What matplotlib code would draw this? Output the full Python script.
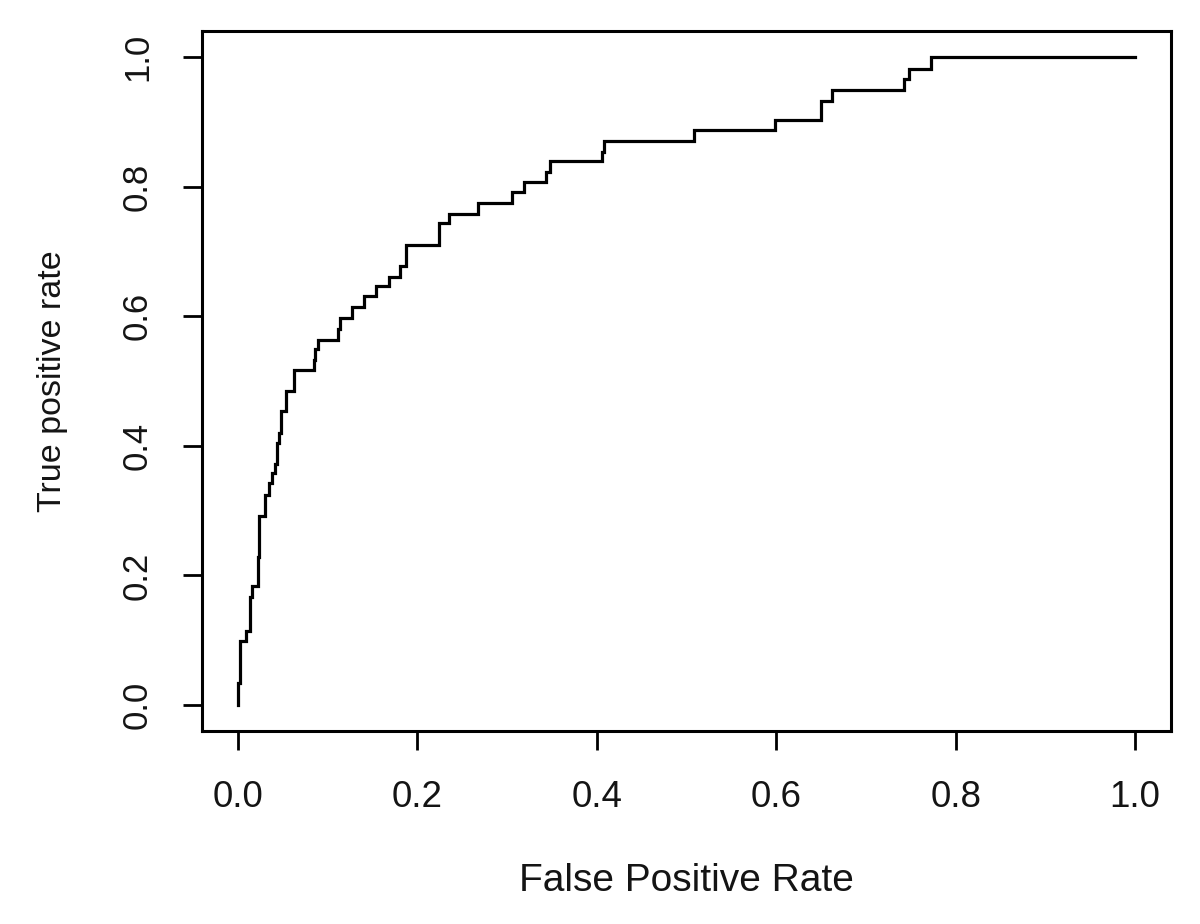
import matplotlib
matplotlib.use("Agg")
import matplotlib.pyplot as plt

# FPR at which each vertical rise occurs, and TPR level reached after the rise
fpr = [0.0, 0.0, 0.0025, 0.0085, 0.014, 0.016, 0.022, 0.024, 0.030, 0.035,
       0.038, 0.0416, 0.044, 0.046, 0.048, 0.054, 0.063, 0.0845, 0.0864, 0.089,
       0.1115, 0.1135, 0.127, 0.1405, 0.1544, 0.168, 0.181, 0.187, 0.224, 0.235,
       0.268, 0.305, 0.319, 0.343, 0.348, 0.4055, 0.4077, 0.508, 0.599, 0.650,
       0.662, 0.7425, 0.7477, 0.772, 1.0]
tpr = [0.0, 0.034, 0.099, 0.115, 0.166, 0.183, 0.229, 0.292, 0.324, 0.342,
       0.358, 0.372, 0.405, 0.420, 0.454, 0.485, 0.517, 0.533, 0.550, 0.564,
       0.580, 0.597, 0.614, 0.631, 0.647, 0.6605, 0.6775, 0.710, 0.744, 0.757,
       0.774, 0.791, 0.8066, 0.823, 0.8395, 0.854, 0.870, 0.887, 0.903, 0.9325,
       0.949, 0.966, 0.9815, 1.0, 1.0]

ticks = [0.0, 0.2, 0.4, 0.6, 0.8, 1.0]
tick_labels = ["0.0", "0.2", "0.4", "0.6", "0.8", "1.0"]
xlabel = "False Positive Rate"
ylabel = "True positive rate"

plt.rcParams['font.family'] = ['Liberation Sans', 'DejaVu Sans']

fig = plt.figure(figsize=(12, 9.24), dpi=100)
ax = fig.add_axes([202/1200, 1 - 731/924, (1171-202)/1200, (731-31)/924])

ax.plot(fpr, tpr, drawstyle='steps-post', color='black', linewidth=2.3,
        solid_joinstyle='miter')

ax.set_xlim(-0.04, 1.04)
ax.set_ylim(-0.04, 1.04)

ax.set_xticks(ticks)
ax.set_xticklabels(tick_labels, fontsize=26.5, color='#141414')
ax.set_yticks(ticks)
ax.set_yticklabels(tick_labels, fontsize=25, rotation=90, va='center',
                   color='#141414')
ax.tick_params(axis='both', direction='out', length=13.5, width=2.0,
               color='black')
ax.tick_params(axis='x', pad=22)
ax.tick_params(axis='y', pad=21)

for s in ax.spines.values():
    s.set_linewidth(2.2)
    s.set_color('black')

ax.set_xlabel(xlabel, fontsize=28, color='#141414', labelpad=34)
ax.set_ylabel(ylabel, fontsize=24.5, color='#141414', labelpad=38)

fig.savefig("out.png", dpi=100)
